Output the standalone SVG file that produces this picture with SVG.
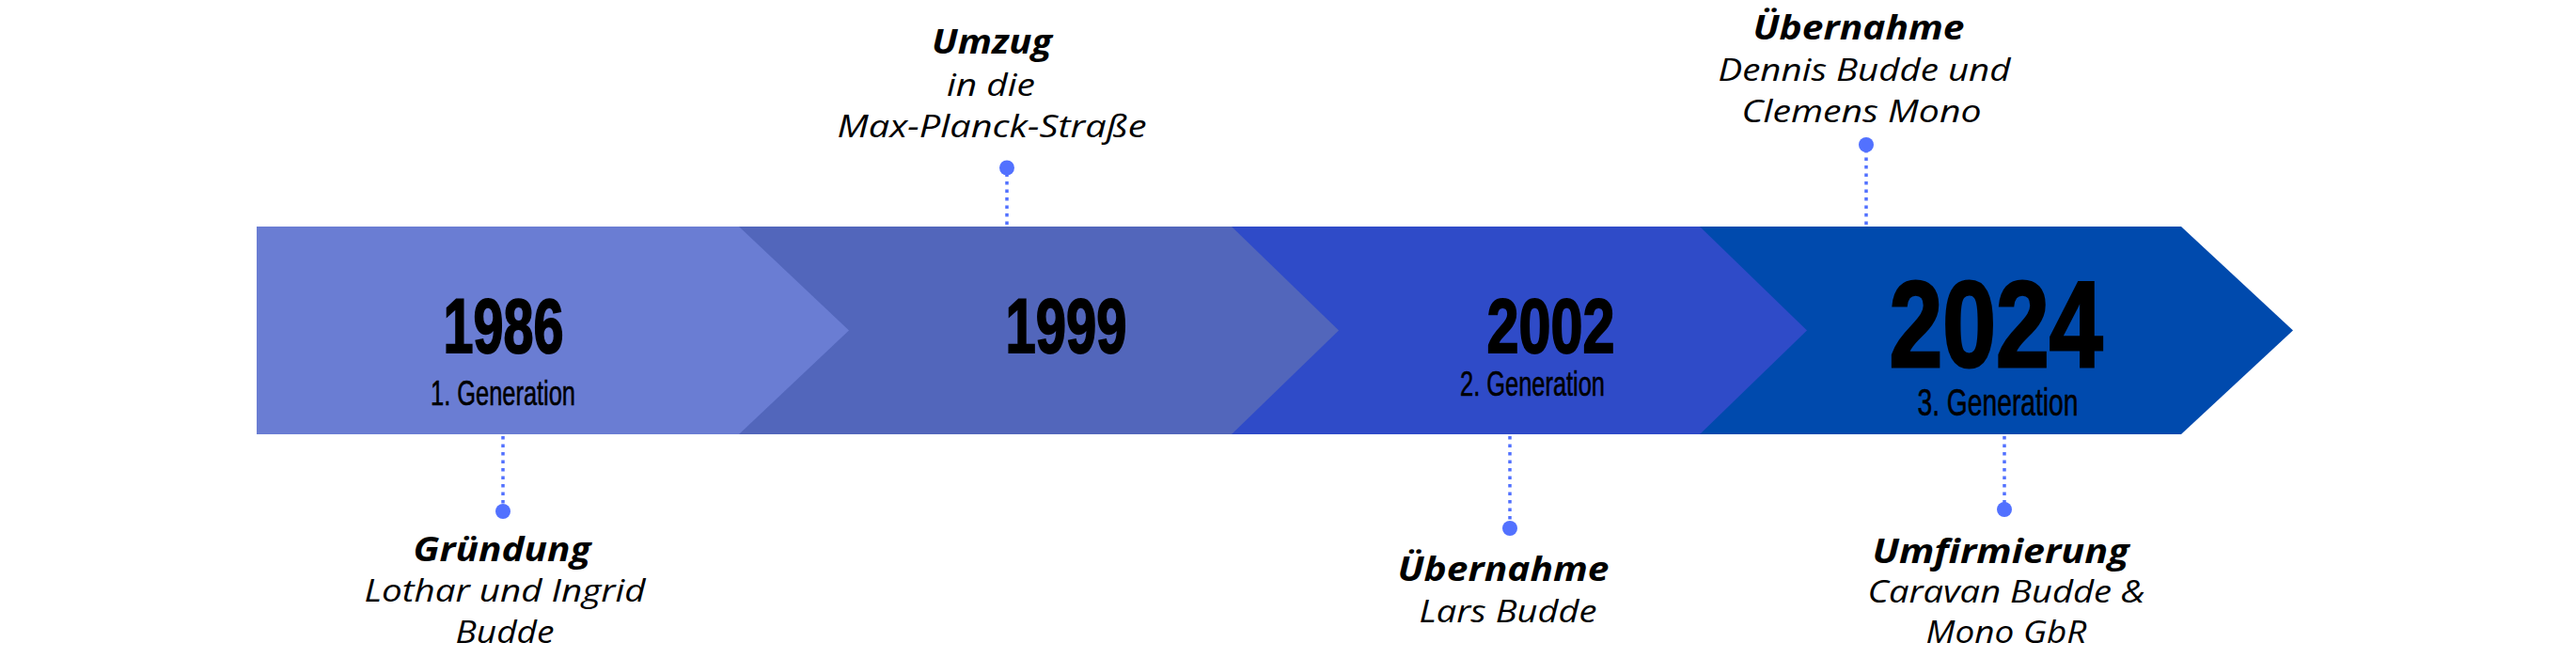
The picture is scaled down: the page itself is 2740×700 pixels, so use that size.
<svg xmlns="http://www.w3.org/2000/svg" width="2740" height="700" viewBox="0 0 2740 700">
<style>
.yr{font-family:"Liberation Sans",Arial,sans-serif;font-weight:bold;font-size:81px;fill:#000;stroke:#000;stroke-width:2;text-anchor:middle}
.gen{font-family:"Liberation Sans",Arial,sans-serif;font-size:36px;fill:#000;stroke:#000;stroke-width:0.6;text-anchor:middle}
.ttl{font-family:"Open Sans","Noto Sans",sans-serif;font-weight:bold;font-style:italic;font-size:36px;fill:#000;text-anchor:middle}
.sub{font-family:"Open Sans","Noto Sans",sans-serif;font-style:italic;font-size:33px;fill:#000;text-anchor:middle}
.dl{stroke:#5271FF;stroke-width:3.5;stroke-dasharray:3.5 5;fill:none}
.dot{fill:#5271FF}
</style>
<rect width="2740" height="700" fill="#fff"/>
<g id="band">
<polygon id="seg4" points="1808,241 2320,241 2439,351.5 2320,462 1808,462" fill="#004AAD"/>
<polygon id="seg3" points="1310,241 1808,241 1922,351.5 1808,462 1310,462" fill="#2F4BC8"/>
<polygon id="seg2" points="786,241 1310,241 1424,351.5 1310,462 786,462" fill="#5266BB"/>
<polygon id="seg1" points="273,241 786,241 903,351.5 786,462 273,462" fill="#6A7DD3"/>
</g>
<g id="connectors">
<line class="dl" x1="535" y1="464" x2="535" y2="540"/>
<line class="dl" x1="1071" y1="239" x2="1071" y2="182"/>
<line class="dl" x1="1606" y1="464" x2="1606" y2="558"/>
<line class="dl" x1="1985" y1="239" x2="1985" y2="158"/>
<line class="dl" x1="2132" y1="464" x2="2132" y2="538"/>
<circle class="dot" cx="535" cy="544" r="8"/>
<circle class="dot" cx="1071" cy="178.5" r="8"/>
<circle class="dot" cx="1606" cy="562" r="8"/>
<circle class="dot" cx="1985" cy="154" r="8"/>
<circle class="dot" cx="2132" cy="542" r="8"/>
</g>
<g id="node-1986">
<text class="yr" x="535.5" y="374.5" textLength="128" lengthAdjust="spacingAndGlyphs">1986</text>
<text class="gen" x="535" y="430.5" textLength="154" lengthAdjust="spacingAndGlyphs">1. Generation</text>
</g>
<g id="node-1999">
<text class="yr" x="1134" y="374.5" textLength="129" lengthAdjust="spacingAndGlyphs">1999</text>
</g>
<g id="node-2002">
<text class="yr" x="1649.5" y="375" textLength="136" lengthAdjust="spacingAndGlyphs">2002</text>
<text class="gen" x="1630" y="421" textLength="154" lengthAdjust="spacingAndGlyphs">2. Generation</text>
</g>
<g id="node-2024">
<text class="yr" x="2123" y="390" style="font-size:130px;stroke-width:3" textLength="227" lengthAdjust="spacingAndGlyphs">2024</text>
<text class="gen" x="2125" y="442" style="font-size:41px" textLength="171" lengthAdjust="spacingAndGlyphs">3. Generation</text>
</g>
<g id="event-gruendung">
<text class="ttl" x="534" y="597" textLength="189" lengthAdjust="spacingAndGlyphs">Gründung</text>
<text class="sub" x="537" y="640" textLength="299" lengthAdjust="spacingAndGlyphs">Lothar und Ingrid</text>
<text class="sub" x="537" y="684" textLength="105" lengthAdjust="spacingAndGlyphs">Budde</text>
</g>
<g id="event-umzug">
<text class="ttl" x="1055" y="57" textLength="128" lengthAdjust="spacingAndGlyphs">Umzug</text>
<text class="sub" x="1054" y="102" textLength="94" lengthAdjust="spacingAndGlyphs">in die</text>
<text class="sub" x="1055" y="146" textLength="329" lengthAdjust="spacingAndGlyphs">Max-Planck-Straße</text>
</g>
<g id="event-uebernahme-lars">
<text class="ttl" x="1599" y="618" textLength="225" lengthAdjust="spacingAndGlyphs">Übernahme</text>
<text class="sub" x="1604" y="662" textLength="189" lengthAdjust="spacingAndGlyphs">Lars Budde</text>
</g>
<g id="event-uebernahme-dennis">
<text class="ttl" x="1977" y="42" textLength="225" lengthAdjust="spacingAndGlyphs">Übernahme</text>
<text class="sub" x="1983" y="86" textLength="311" lengthAdjust="spacingAndGlyphs">Dennis Budde und</text>
<text class="sub" x="1980" y="130" textLength="255" lengthAdjust="spacingAndGlyphs">Clemens Mono</text>
</g>
<g id="event-umfirmierung">
<text class="ttl" x="2128" y="599" textLength="273" lengthAdjust="spacingAndGlyphs">Umfirmierung</text>
<text class="sub" x="2134" y="641" textLength="295" lengthAdjust="spacingAndGlyphs">Caravan Budde &amp;</text>
<text class="sub" x="2134" y="684" textLength="171" lengthAdjust="spacingAndGlyphs">Mono GbR</text>
</g>
</svg>
